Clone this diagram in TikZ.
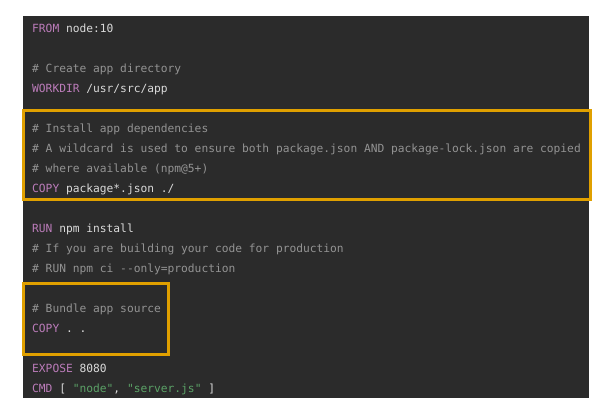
\documentclass[tikz,border=0pt]{standalone}
\usepackage{fontspec}
\setmonofont{DejaVu Sans Mono}
\definecolor{bgdark}{HTML}{2B2B2B}
\definecolor{kw}{HTML}{BC7CBA}
\definecolor{txt}{HTML}{DADADA}
\definecolor{cmt}{HTML}{939393}
\definecolor{str}{HTML}{5BA267}
\definecolor{hl}{HTML}{E0A000}
\newcommand{\kwd}[1]{\textcolor{kw}{#1}}
\newcommand{\cmtx}[1]{\textcolor{cmt}{#1}}
\newcommand{\strx}[1]{\textcolor{str}{#1}}
\begin{document}
\begin{tikzpicture}[x=1pt,y=-1pt,
  codeline/.style={anchor=base west,inner sep=0pt,text=txt,
    font=\fontsize{11.25pt}{13pt}\selectfont\ttfamily},
  hlbox/.style={draw=hl,line width=3pt}]
\useasboundingbox (0,0) rectangle (609,410);
\fill[white] (0,0) rectangle (609,410);
\fill[bgdark] (23,16) rectangle (589,398);
\node[codeline] (l0) at (32,32) {\kwd{FROM} node:10};
\node[codeline] (l2) at (32,72) {\cmtx{\# Create app directory}};
\node[codeline] (l3) at (32,92) {\kwd{WORKDIR} /usr/src/app};
\node[codeline] (l5) at (32,132) {\cmtx{\# Install app dependencies}};
\node[codeline] (l6) at (32,152) {\cmtx{\# A wildcard is used to ensure both package.json AND package-lock.json are copied}};
\node[codeline] (l7) at (32,172) {\cmtx{\# where available (npm@5+)}};
\node[codeline] (l8) at (32,192) {\kwd{COPY} package*.json ./};
\node[codeline] (l10) at (32,232) {\kwd{RUN} npm install};
\node[codeline] (l11) at (32,252) {\cmtx{\# If you are building your code for production}};
\node[codeline] (l12) at (32,272) {\cmtx{\# RUN npm ci -{}-only=production}};
\node[codeline] (l14) at (32,312) {\cmtx{\# Bundle app source}};
\node[codeline] (l15) at (32,332) {\kwd{COPY} . .};
\node[codeline] (l17) at (32,372) {\kwd{EXPOSE} 8080};
\node[codeline] (l18) at (32,392) {\kwd{CMD} [ \strx{"node"}, \strx{"server.js"} ]};
\draw[hlbox] (23,110) rectangle (590,199);
\draw[hlbox] (23,283) rectangle (168,354);
\end{tikzpicture}
\end{document}
